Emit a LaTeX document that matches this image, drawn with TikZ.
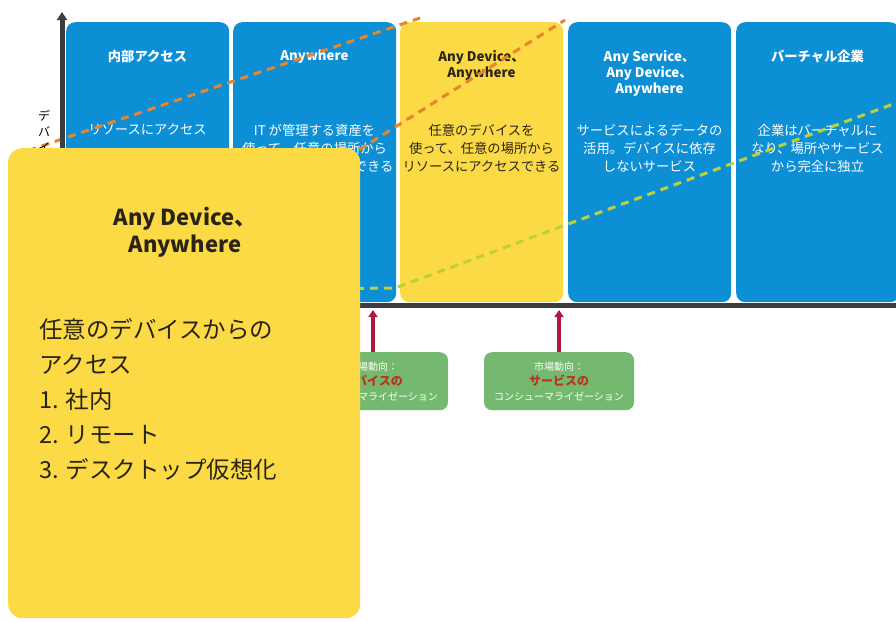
\documentclass[tikz,border=0pt]{standalone}
\usepackage{fontspec}
\newfontfamily\jp{Noto Sans CJK JP}
\usetikzlibrary{arrows.meta}

\definecolor{stageblue}{HTML}{0D8FD6}
\definecolor{stageyellow}{HTML}{FCDA45}
\definecolor{axisgray}{HTML}{3D3D40}
\definecolor{dashorange}{HTML}{E8832E}
\definecolor{dashlime}{HTML}{BCD03C}
\definecolor{trendgreen}{HTML}{74B96F}
\definecolor{trendred}{HTML}{B0173C}
\definecolor{trendword}{HTML}{C0301E}
\definecolor{darktext}{HTML}{2A2418}

\tikzset{
  stage/.style={fill=stageblue, rounded corners=9pt, minimum width=163pt,
    minimum height=280pt, anchor=north west, inner sep=0pt},
  hotstage/.style={stage, fill=stageyellow},
  head/.style={font=\jp\bfseries\fontsize{13.3}{16}\selectfont, text=white,
    align=center, anchor=north, inner sep=0pt},
  body/.style={font=\jp\fontsize{13.3}{18}\selectfont, text=white,
    align=center, anchor=north, inner sep=0pt},
  axisline/.style={draw=axisgray, line width=5pt},
  trenddash/.style={line width=3pt, dash pattern=on 8pt off 6pt},
  trendbox/.style={fill=trendgreen, rounded corners=8pt, minimum width=150pt,
    minimum height=58pt, anchor=north, inner sep=0pt, align=center,
    text=white, font=\jp\fontsize{10}{15}\selectfont},
  trendarrow/.style={draw=trendred, line width=3.2pt,
    -{Triangle[width=9pt,length=7pt]}, shorten >=5pt},
}

\begin{document}
\begin{tikzpicture}[x=1pt, y=-1pt]
  \useasboundingbox (0,0) rectangle (896,621);

  % the five stages
  \node[stage]    (s1) at (66,22)  {};
  \node[stage]    (s2) at (233,22) {};
  \node[hotstage] (s3) at (400,22) {};
  \node[stage]    (s4) at (568,22) {};
  \node[stage]    (s5) at (736,22) {};

  \node[head] (h1) at (147.5,50) {内部アクセス};
  \node[head] (h2) at (314.5,50) {Anywhere};
  \node[head, text=darktext] (h3) at (481.5,50) {Any Device、\\Anywhere};
  \node[head] (h4) at (649.5,50) {Any Service、\\Any Device、\\Anywhere};
  \node[head] (h5) at (817.5,50) {バーチャル企業};

  \node[body] (b1) at (147.5,124) {リソースにアクセス};
  \node[body] (b2) at (314.5,124) {IT が管理する資産を\\使って、任意の場所から\\リソースにアクセスできる};
  \node[body, text=darktext] (b3) at (481.5,124) {任意のデバイスを\\使って、任意の場所から\\リソースにアクセスできる};
  \node[body] (b4) at (649.5,124) {サービスによるデータの\\活用。デバイスに依存\\しないサービス};
  \node[body] (b5) at (817.5,124) {企業はバーチャルに\\なり、場所やサービス\\から完全に独立};

  % trend lines
  \draw[trenddash, dashorange] (15,155) -- (420,18);
  \draw[trenddash, dashorange] (300,187) -- (565,20);
  \draw[trenddash, dashlime] (300,289) -- (395,288) -- (896,103);

  % axes
  \coordinate (origin) at (62,305);
  \coordinate (ytop) at (62,12);
  \coordinate (xend) at (896,305);
  \draw[axisline] (xend) -- ([xshift=-2.5pt]origin);
  \draw[axisline, -{Triangle[width=10pt,length=8pt]}] ([yshift=-2.5pt]origin) -- (ytop);
  \node[font=\jp\fontsize{12}{16}\selectfont, align=center, anchor=north,
    inner sep=0pt] (ylabel) at (44,110) {デ\\バ\\イ\\ス};

  % market trends
  \node[trendbox] (t1) at (373,352) {市場動向：\\{\bfseries\color{trendword}\fontsize{12}{15}\selectfont デバイスの}\\コンシューマライゼーション};
  \node[trendbox] (t2) at (559,352) {市場動向：\\{\bfseries\color{trendword}\fontsize{12}{15}\selectfont サービスの}\\コンシューマライゼーション};
  \draw[trendarrow] (t1.north) -- (t1.north |- origin);
  \draw[trendarrow] (t2.north) -- (t2.north |- origin);

  % close-up panel
  \node[fill=stageyellow, rounded corners=14pt, minimum width=352pt,
    minimum height=470pt, anchor=north west, inner sep=0pt] (panel) at (8,148) {};
  \node[font=\jp\bfseries\fontsize{22}{27}\selectfont, text=darktext,
    align=center, inner sep=0pt] (ptitle) at (185,232) {Any Device、\\Anywhere};
  \node[font=\jp\fontsize{23.5}{35}\selectfont, text=darktext, align=left,
    anchor=north west, inner sep=0pt] (plist) at (39,318)
    {任意のデバイスからの\\アクセス\\1. 社内\\2. リモート\\3. デスクトップ仮想化};
\end{tikzpicture}
\end{document}
